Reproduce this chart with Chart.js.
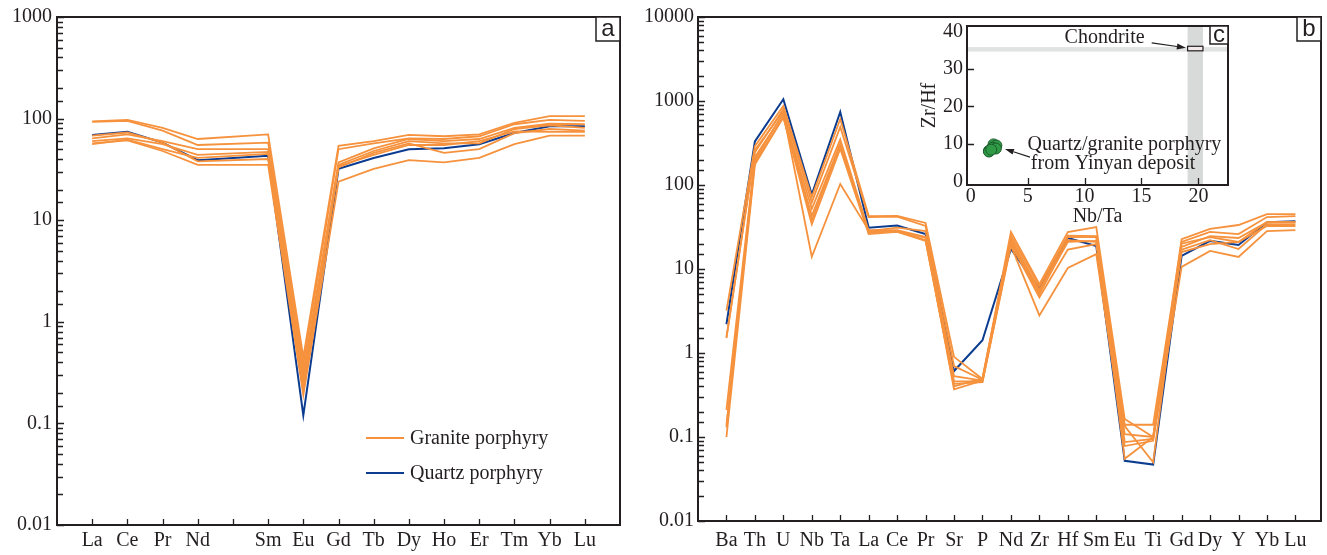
<!DOCTYPE html>
<html><head><meta charset="utf-8">
<script src="https://cdn.jsdelivr.net/npm/chart.js@4.4.1/dist/chart.umd.min.js"></script>
<style>
html,body{margin:0;padding:0;background:#fff;}
body{width:1327px;height:555px;overflow:hidden;position:relative;}
canvas{position:absolute;}
</style></head>
<body>
<canvas id="ca" width="632" height="555" style="left:0;top:0"></canvas>
<canvas id="cb" width="695" height="555" style="left:632px;top:0"></canvas>
<canvas id="cc" width="320" height="220" style="left:915px;top:10px"></canvas>
<script>
// ---------------- DATA ----------------
// Panel a: chondrite-normalised REE (slot 5 = Pm, empty)
const reeLabels = ['La','Ce','Pr','Nd','','Sm','Eu','Gd','Tb','Dy','Ho','Er','Tm','Yb','Lu'];
const quartzREE = [69, 74, 58, 39, null, 43, 0.12, 32, 41, 50, 51, 56, 72, 84, 84];
const graniteREE = [
  [94, 97, 81, 63, null, 70, 0.45, 54, 60, 69, 67, 70, 91, 106, 106],
  [93, 95, 76, 55, null, 58, 0.38, 50, 57, 64, 63, 67, 88, 97, 95],
  [64, 70, 60, 50, null, 50, 0.32, 37, 51, 63, 60, 63, 81, 89, 88],
  [60, 64, 56, 44, null, 47, 0.28, 35, 48, 60, 57, 57, 79, 86, 81],
  [56, 62, 50, 41, null, 45, 0.24, 33, 46, 57, 46, 50, 72, 79, 76],
  [57, 61, 48, 35, null, 35, 0.19, 24, 32, 39, 37, 41, 56, 68, 68],
  [68, 73, 58, 38, null, 40, 0.21, 34, 44, 55, 55, 60, 75, 74, 74]
];
const yTicksA = [0.01, 0.1, 1, 10, 100, 1000];

// Panel b: primitive-mantle-normalised trace elements
const traceLabels = ['Ba','Th','U','Nb','Ta','La','Ce','Pr','Sr','P','Nd','Zr','Hf','Sm','Eu','Ti','Gd','Dy','Y','Yb','Lu'];
const quartzTrace = [2.2, 330, 1050, 77, 740, 31, 33, 26, 0.61, 1.42, 17.3, 5.8, 23.4, 18.8, 0.052, 0.047, 14.3, 21.6, 19.3, 36, 37];
const graniteTrace = [
  [3.2, 290, 870, 72, 610, 42.7, 43, 35.4, 0.9, 0.49, 27.6, 6.6, 27.5, 31.6, 0.164, 0.1, 22.7, 30, 33.4, 45, 45],
  [1.55, 245, 800, 62, 490, 41.5, 42, 32.5, 0.7, 0.48, 25, 6.2, 25, 24.6, 0.14, 0.14, 21, 27.6, 26, 41.5, 42.7],
  [0.21, 215, 700, 52, 350, 28.3, 31, 28.3, 0.53, 0.47, 22, 5.3, 21, 21.6, 0.108, 0.1, 18.3, 24.6, 23.4, 36, 36],
  [0.14, 188, 640, 43, 310, 27.6, 28.3, 23.4, 0.46, 0.46, 20, 4.6, 17, 19.8, 0.087, 0.095, 15.9, 19.8, 21, 32.5, 32.5],
  [0.1, 175, 640, 34, 270, 26, 27.6, 21.6, 0.43, 0.45, 19, 2.8, 10.3, 15, 0.078, 0.09, 10.6, 16.4, 13.9, 28.3, 29],
  [0.13, 200, 720, 14, 103, 29, 29, 24, 0.37, 0.47, 21, 5.0, 22, 21, 0.135, 0.05, 20, 24, 21, 36, 36],
  [1.5, 260, 760, 38, 300, 27, 28, 22, 0.4, 0.5, 23, 5.6, 24, 24, 0.055, 0.1, 17, 22, 17.3, 34, 34]
];
const yTicksB = [0.01, 0.1, 1, 10, 100, 1000, 10000];

// Panel c: Nb/Ta vs Zr/Hf
const sampleNbTa = [1.6, 2.0, 2.25, 1.9, 1.6, 2.2, 1.8];
const sampleZrHf = [8.2, 9.9, 9.6, 9.0, 8.0, 8.8, 8.5];
const chondriteNbTa = [19.05, 20.4];
const chondriteZrHf = [34.6, 35.8];
const xTicksC = [0, 5, 10, 15, 20];
const yTicksC = [0, 10, 20, 30, 40];

const seriesNames = ['Granite porphyry', 'Quartz porphyry'];

// ---------------- STYLE ----------------
const SERIF = '"Liberation Serif", "Times New Roman", serif';
const SANS = '"Liberation Sans", Arial, sans-serif';
const INK = '#231f20';
const ORANGE = '#f6923d';
const BLUE = '#0c3c8f';
const FS = 20;

function toPts(arr){ return arr.map((v,i)=>({x:i, y:v})).filter(p=>p.y!==null); }
function isDecade(v){ const l=Math.log10(v); return Math.abs(l-Math.round(l))<1e-6; }
function decadeLabel(v){ const l=Math.round(Math.log10(v)); return l<0 ? v.toFixed(-l) : String(Math.round(v)); }

// frame, inward ticks, letter box, legend, annotations
const decoPlugin = {
  id:'deco',
  beforeDatasetsDraw(chart, args, o){
    if(!o || !o.bands) return;
    const ctx=chart.ctx, ca=chart.chartArea, xs=chart.scales.x, ys=chart.scales.y;
    ctx.save();
    ctx.fillStyle='#d8d9d9';
    const x0=xs.getPixelForValue(chondriteNbTa[0]), x1=xs.getPixelForValue(chondriteNbTa[1]);
    ctx.fillRect(x0, ca.top, x1-x0, ca.bottom-ca.top);
    ctx.fillStyle='rgba(205,207,207,0.6)';
    const y0=ys.getPixelForValue(chondriteZrHf[1]), y1=ys.getPixelForValue(chondriteZrHf[0]);
    ctx.fillRect(ca.left, y0, ca.right-ca.left, y1-y0);
    ctx.restore();
  },
  afterDatasetsDraw(chart, args, o){
    if(!o) return;
    const ctx=chart.ctx, ca=chart.chartArea, xs=chart.scales.x, ys=chart.scales.y;
    ctx.save();
    ctx.strokeStyle=INK; ctx.lineWidth=1.3;
    ctx.beginPath();
    (o.xTicks||[]).forEach(v=>{
      const px=Math.round(xs.getPixelForValue(v))+0.5;
      ctx.moveTo(px, ca.bottom); ctx.lineTo(px, ca.bottom-(o.xLen||6));
    });
    if(o.yLog){
      ys.ticks.forEach(t=>{
        if(t.value<ys.min-1e-12 || t.value>ys.max*1.0000001) return;
        const py=Math.round(ys.getPixelForValue(t.value))+0.5;
        const len=isDecade(t.value)?7:6;
        ctx.moveTo(ca.left, py); ctx.lineTo(ca.left+len, py);
      });
    } else {
      (o.yTicks||[]).forEach(v=>{
        const py=Math.round(ys.getPixelForValue(v))+0.5;
        ctx.moveTo(ca.left, py); ctx.lineTo(ca.left+(o.yLen||6), py);
      });
    }
    ctx.stroke();
    ctx.lineWidth=2;
    ctx.strokeRect(ca.left, ca.top, ca.right-ca.left, ca.bottom-ca.top);
    if(o.letter){
      const w=o.boxW, h=o.boxH;
      ctx.fillStyle='#fff';
      ctx.fillRect(ca.right-w, ca.top, w, h);
      ctx.lineWidth=1.5;
      ctx.strokeRect(ca.right-w, ca.top, w, h);
      ctx.fillStyle=INK;
      ctx.font='24px '+SANS;
      ctx.textAlign='center'; ctx.textBaseline='middle';
      ctx.fillText(o.letter, ca.right-w/2, ca.top+h/2+0.5);
    }
    if(o.legend){
      const L=o.legend;
      ctx.font=FS+'px '+SERIF; ctx.textAlign='left'; ctx.textBaseline='middle';
      [[ORANGE, seriesNames[0], L.y1],[BLUE, seriesNames[1], L.y2]].forEach(([c,t,y])=>{
        ctx.strokeStyle=c; ctx.lineWidth=2;
        ctx.beginPath(); ctx.moveTo(L.x, y); ctx.lineTo(L.x+L.len, y); ctx.stroke();
        ctx.fillStyle=INK; ctx.fillText(t, L.x+L.len+6, y+1);
      });
    }
    if(o.notes){
      const P=(x,y)=>[xs.getPixelForValue(x), ys.getPixelForValue(y)];
      const bx0=xs.getPixelForValue(chondriteNbTa[0]), bx1=xs.getPixelForValue(chondriteNbTa[1]);
      const by0=ys.getPixelForValue(36.0), by1=ys.getPixelForValue(34.8);
      ctx.fillStyle='#f4e9e9'; ctx.fillRect(bx0,by0,bx1-bx0,by1-by0);
      ctx.strokeStyle=INK; ctx.lineWidth=1.2; ctx.strokeRect(bx0,by0,bx1-bx0,by1-by0);
      ctx.fillStyle=INK; ctx.font=FS+'px '+SERIF; ctx.textAlign='center'; ctx.textBaseline='middle';
      let p=P(11.76,38.4); ctx.fillText('Chondrite', p[0], p[1]);
      p=P(13.5,9.7); ctx.fillText('Quartz/granite porphyry', p[0], p[1]);
      p=P(12.5,4.8); ctx.fillText('from Yinyan deposit', p[0], p[1]);
      const arrow=(a,b)=>{
        ctx.strokeStyle=INK; ctx.fillStyle=INK; ctx.lineWidth=1.2;
        const ang=Math.atan2(b[1]-a[1], b[0]-a[0]);
        const hl=9, hw=3;
        const bx=b[0]-hl*Math.cos(ang), by=b[1]-hl*Math.sin(ang);
        ctx.beginPath(); ctx.moveTo(a[0],a[1]); ctx.lineTo(bx,by); ctx.stroke();
        ctx.beginPath(); ctx.moveTo(b[0],b[1]);
        ctx.lineTo(bx+hw*Math.sin(ang), by-hw*Math.cos(ang));
        ctx.lineTo(bx-hw*Math.sin(ang), by+hw*Math.cos(ang));
        ctx.closePath(); ctx.fill();
      };
      arrow(P(15.9,36.9), P(18.9,35.6));
      arrow(P(5.2,6.5), P(3.0,8.7));
    }
    ctx.restore();
  }
};
Chart.register(decoPlugin);

const tickFont = {family:SERIF, size:FS};
function lineDs(label, arr, color, w){
  return {label, data:toPts(arr), borderColor:color, backgroundColor:color, borderWidth:w,
          pointRadius:0, tension:0, spanGaps:true, fill:false};
}
function baseScales(cats, xmax, yMin, yMax, yW, xH, xPad, yPad){
  return {
    x:{type:'linear', min:-1, max:xmax, grid:{display:false, drawTicks:false}, border:{display:false},
       afterBuildTicks:s=>{ s.ticks = cats.map((_,i)=>({value:i})); },
       afterFit:s=>{ s.height=xH; },
       ticks:{autoSkip:false, maxRotation:0, minRotation:0, padding:xPad, color:INK, font:tickFont,
              callback:(v)=> (Number.isInteger(v) && cats[v]!==undefined) ? cats[v] : ''}},
    y:{type:'logarithmic', min:yMin, max:yMax, grid:{display:false, drawTicks:false}, border:{display:false},
       afterFit:s=>{ s.width=yW; },
       ticks:{autoSkip:false, padding:yPad, color:INK, font:tickFont,
              callback:(v)=> isDecade(v) ? decadeLabel(v) : ''}}
  };
}

// ---------------- PANEL A ----------------
new Chart(document.getElementById('ca'), {
  type:'line',
  data:{datasets:[
    ...graniteREE.map(r=>lineDs(seriesNames[0], r, ORANGE, 1.8)),
    lineDs(seriesNames[1], quartzREE, BLUE, 2)
  ]},
  options:{
    responsive:false, animation:false, events:[],
    layout:{padding:{top:16, right:12, left:0, bottom:0}},
    plugins:{legend:{display:false}, tooltip:{enabled:false},
      deco:{xTicks:reeLabels.map((_,i)=>i), xLen:6, yLog:true, letter:'a', boxW:24, boxH:24,
            legend:{x:366, len:38, y1:438, y2:473}}},
    scales: baseScales(reeLabels, 15, yTicksA[0], yTicksA[yTicksA.length-1], 57, 30, 4, 5)
  }
});

// ---------------- PANEL B ----------------
new Chart(document.getElementById('cb'), {
  type:'line',
  data:{datasets:[
    ...graniteTrace.map(r=>lineDs(seriesNames[0], r, ORANGE, 1.8)),
    lineDs(seriesNames[1], quartzTrace, BLUE, 2)
  ]},
  options:{
    responsive:false, animation:false, events:[],
    layout:{padding:{top:17, right:6, left:0, bottom:0}},
    plugins:{legend:{display:false}, tooltip:{enabled:false},
      deco:{xTicks:traceLabels.map((_,i)=>i), xLen:6, yLog:true, letter:'b', boxW:24, boxH:24}},
    scales: baseScales(traceLabels, 20.9, yTicksB[0], yTicksB[yTicksB.length-1], 66, 34, 8, 4)
  }
});

// ---------------- PANEL C (inset) ----------------
new Chart(document.getElementById('cc'), {
  type:'scatter',
  data:{datasets:[{
    label:seriesNames.join('/'),
    data: sampleNbTa.map((x,i)=>({x, y:sampleZrHf[i]})),
    pointRadius:5.5, pointBackgroundColor:'#2f9a46', pointBorderColor:'#1c5a2b', pointBorderWidth:1
  }]},
  options:{
    responsive:false, animation:false, events:[],
    layout:{padding:{top:13, right:7, left:0, bottom:0}},
    plugins:{legend:{display:false}, tooltip:{enabled:false},
      deco:{bands:true, notes:true, xTicks:[5,10,15,20], xLen:7, yTicks:[10,20,30], yLen:7,
            letter:'c', boxW:18, boxH:18}},
    scales:{
      x:{type:'linear', min:-0.33, max:22.6, grid:{display:false, drawTicks:false}, border:{display:false},
         afterBuildTicks:s=>{ s.ticks = xTicksC.map(v=>({value:v})); },
         afterFit:s=>{ s.height=45; },
         title:{display:true, text:'Nb/Ta', color:INK, font:tickFont, padding:{top:0, bottom:1}},
         ticks:{autoSkip:false, maxRotation:0, padding:0, color:INK, font:tickFont}},
      y:{type:'linear', min:-0.9, max:41.4, grid:{display:false, drawTicks:false}, border:{display:false},
         afterBuildTicks:s=>{ s.ticks = yTicksC.map(v=>({value:v})); },
         afterFit:s=>{ s.width=52; },
         title:{display:true, text:'Zr/Hf', color:INK, font:tickFont, padding:{top:3, bottom:0}},
         ticks:{autoSkip:false, padding:4, color:INK, font:tickFont}}
    }
  }
});
</script>
</body></html>
